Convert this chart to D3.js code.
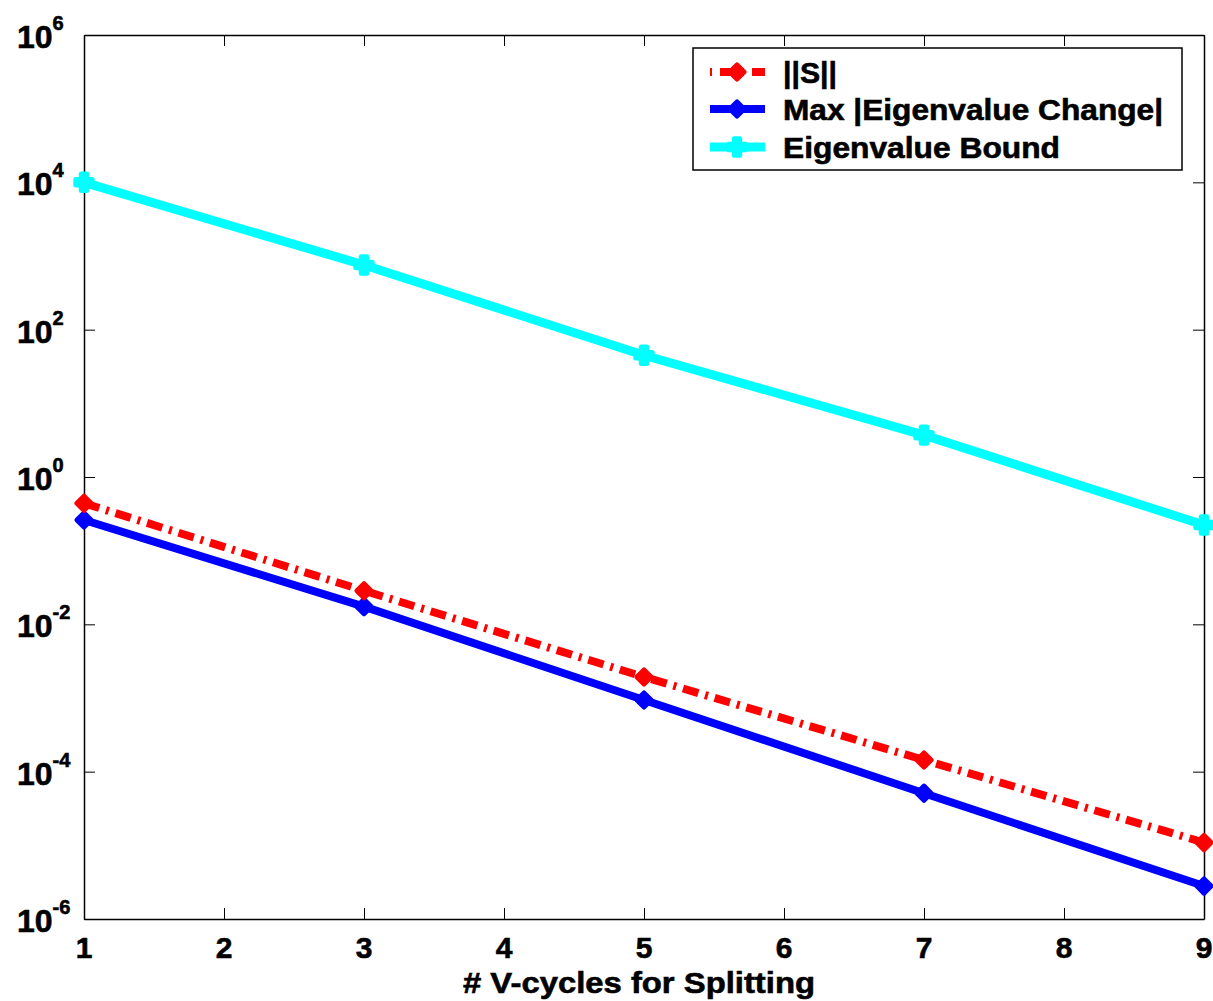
<!DOCTYPE html>
<html lang="en">
<head>
<meta charset="utf-8">
<script src="https://d3js.org/d3.v7.min.js"></script>
<style type="text/css">
body {
	margin: 0;
	background: #fff;
	font-family: "Liberation Sans", Arial, sans-serif;
	font-weight: bold;
}
text {
	stroke: #000;
	stroke-width: 0.6px;
}
</style>
</head>
<body>
<script type="text/javascript">

// chart data
var cycles = [1, 3, 5, 7, 9];
var normS = [0.44, 0.0286, 0.00193, 1.44e-4, 1.09e-5];
var maxEigChange = [0.261, 0.0174, 9.4e-4, 5.1e-5, 2.8e-6];
var eigBound = [1.0e4, 755, 45, 3.7, 0.223];
var xTicks = [1, 2, 3, 4, 5, 6, 7, 8, 9];
var yExps = [-6, -4, -2, 0, 2, 4, 6];
var seriesNames = ["||S||", "Max |Eigenvalue Change|", "Eigenvalue Bound"];

var width = 1213, height = 1001;
var plotL = 84, plotR = 1204, plotT = 35, plotB = 919;

var svg = d3.select("body").append("svg")
	.attr("width", width)
	.attr("height", height);

var x = d3.scaleLinear().domain([1, 9]).range([plotL, plotR]);
var y = d3.scaleLog().domain([1e-6, 1e6]).range([plotB, plotT]);
var yTickVals = yExps.map(function(e) { return Math.pow(10, e); });

// axes box with inward ticks on all four sides
function styleAxis(g) {
	g.selectAll("path").attr("stroke", "#000").attr("stroke-width", 1.5);
	g.selectAll("line").attr("stroke", "#000").attr("stroke-width", 1);
}
svg.append("g").attr("transform", "translate(0," + plotB + ")")
	.call(d3.axisBottom(x).tickValues(xTicks).tickSizeInner(-11).tickSizeOuter(0).tickFormat(""))
	.call(styleAxis);
svg.append("g").attr("transform", "translate(0," + plotT + ")")
	.call(d3.axisTop(x).tickValues(xTicks).tickSizeInner(-11).tickSizeOuter(0).tickFormat(""))
	.call(styleAxis);
svg.append("g").attr("transform", "translate(" + plotL + ",0)")
	.call(d3.axisLeft(y).tickValues(yTickVals).tickSizeInner(-11).tickSizeOuter(0).tickFormat(""))
	.call(styleAxis);
svg.append("g").attr("transform", "translate(" + plotR + ",0)")
	.call(d3.axisRight(y).tickValues(yTickVals).tickSizeInner(-11).tickSizeOuter(0).tickFormat(""))
	.call(styleAxis);

// x tick labels
svg.selectAll(".xlab").data(xTicks).enter().append("text")
	.attr("x", function(d) { return x(d); })
	.attr("y", plotB + 39)
	.attr("text-anchor", "middle")
	.style("font-size", "30px")
	.text(function(d) { return d; });

// y tick labels 10^n
var ylab = svg.selectAll(".ylab").data(yExps).enter().append("text")
	.attr("x", 17)
	.attr("y", function(d) { return y(Math.pow(10, d)) + 13; })
	.style("font-size", "32px");
ylab.append("tspan").text("10");
ylab.append("tspan")
	.attr("dy", -18)
	.style("font-size", "20px")
	.text(function(d) { return d; });

// x axis title
svg.append("text")
	.attr("x", 463)
	.attr("y", 993)
	.attr("textLength", 352)
	.attr("lengthAdjust", "spacingAndGlyphs")
	.style("font-size", "30px")
	.text("# V-cycles for Splitting");

var line = d3.line()
	.x(function(d) { return x(d[0]); })
	.y(function(d) { return y(d[1]); });

var series = [
	{ vals: normS, color: "#ff0000", width: 8, dash: "16,7,3,7", symbol: d3.symbolSquare, rot: 45, size: 100 },
	{ vals: maxEigChange, color: "#0000ff", width: 8, dash: null, symbol: d3.symbolSquare, rot: 45, size: 100 },
	{ vals: eigBound, color: "#00ffff", width: 9, dash: null, symbol: d3.symbolCross, rot: 0, size: 150 }
];

// draw cyan first, then blue, then red on top
[2, 1, 0].forEach(function(i) {
	var s = series[i];
	var pts = cycles.map(function(c, j) { return [c, s.vals[j]]; });
	svg.append("path")
		.datum(pts)
		.attr("d", line)
		.attr("fill", "none")
		.attr("stroke", s.color)
		.attr("stroke-width", s.width)
		.attr("stroke-dasharray", s.dash);
	svg.selectAll(".m" + i).data(pts).enter().append("path")
		.attr("transform", function(d) { return "translate(" + x(d[0]) + "," + y(d[1]) + ") rotate(" + s.rot + ")"; })
		.attr("d", d3.symbol().type(s.symbol).size(s.size))
		.attr("fill", s.color)
		.attr("stroke", s.color)
		.attr("stroke-width", 5)
		.attr("stroke-linejoin", "round");
});

// legend
var lg = svg.append("g");
lg.append("rect")
	.attr("x", 693).attr("y", 48)
	.attr("width", 489).attr("height", 122)
	.attr("fill", "#fff")
	.attr("stroke", "#000")
	.attr("stroke-width", 1.5);
var rowY = [72, 109, 147];
var textW = [54, 380, 277];
series.forEach(function(s, i) {
	lg.append("line")
		.attr("x1", 710).attr("x2", 765)
		.attr("y1", rowY[i]).attr("y2", rowY[i])
		.attr("stroke", s.color)
		.attr("stroke-width", s.width)
		.attr("stroke-dasharray", s.dash ? "2,8,16,6" : null);
	lg.append("path")
		.attr("transform", "translate(737," + rowY[i] + ") rotate(" + s.rot + ")")
		.attr("d", d3.symbol().type(s.symbol).size(s.size))
		.attr("fill", s.color)
		.attr("stroke", s.color)
		.attr("stroke-width", 5)
		.attr("stroke-linejoin", "round");
	lg.append("text")
		.attr("x", 783)
		.attr("y", rowY[i] + 11)
		.attr("textLength", textW[i])
		.attr("lengthAdjust", "spacingAndGlyphs")
		.style("font-size", "29px")
		.text(seriesNames[i]);
});

</script>
</body>
</html>
